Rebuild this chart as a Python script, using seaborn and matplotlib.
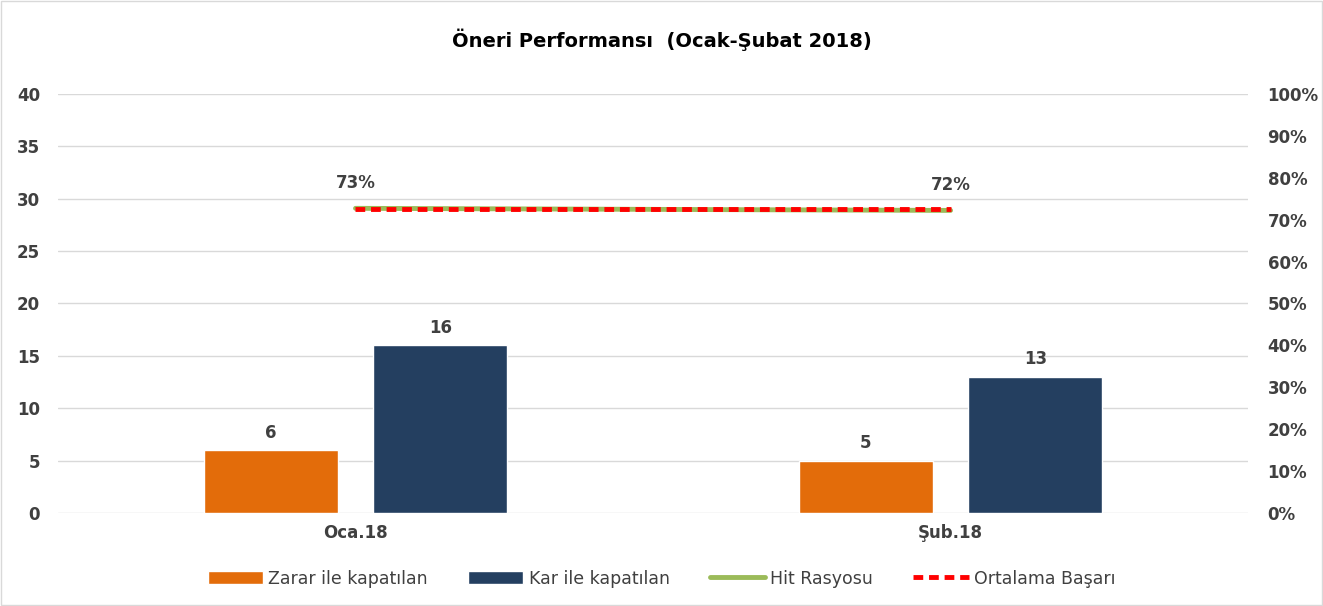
import matplotlib
matplotlib.use("Agg")
import matplotlib.pyplot as plt
from matplotlib.lines import Line2D
from matplotlib.patches import Patch
import seaborn as sns
import pandas as pd

# veriler
aylar = ["Oca.18", "Şub.18"]
zarar = [6, 5]
kar = [16, 13]
hit_rasyosu = [0.727, 0.722]
ortalama_basari = [0.7245, 0.7245]
hit_etiket = ["73%", "72%"]

seriler = ["Zarar ile kapatılan", "Kar ile kapatılan"]
renkler = ["#E36C0A", "#243F60"]

df = pd.DataFrame({
    "ay": aylar * 2,
    "seri": [seriler[0]] * 2 + [seriler[1]] * 2,
    "adet": zarar + kar,
})

sns.set_style("white")
plt.rcParams["font.family"] = ["DejaVu Sans"]
yazi_rengi = "#404040"

fig = plt.figure(figsize=(13.23, 6.06), dpi=100)
ax = fig.add_axes([0.0438, 0.1535, 0.8996, 0.6915])

sns.barplot(data=df, x="ay", y="adet", hue="seri", palette=renkler,
            width=0.57, gap=0.21, legend=False, ax=ax, saturation=1)

# bar etiketleri
for cont in ax.containers:
    ax.bar_label(cont, padding=6, fontsize=12, fontweight="bold", color=yazi_rengi)

ax.set_ylim(0, 40)
ax.set_yticks(range(0, 41, 5))
ax.set_xlim(-0.5, 1.5)
ax.set_xlabel("")
ax.set_ylabel("")
ax.grid(axis="y", color="#D9D9D9", linewidth=1)
ax.set_axisbelow(True)
for s in ax.spines.values():
    s.set_visible(False)
ax.tick_params(axis="y", length=0, pad=13, labelsize=12, labelcolor=yazi_rengi)
ax.tick_params(axis="x", length=0, pad=8, labelsize=12, labelcolor=yazi_rengi)
for lbl in ax.get_xticklabels() + ax.get_yticklabels():
    lbl.set_fontweight("bold")

# ikinci eksen: oranlar
ax2 = ax.twinx()
sns.lineplot(x=[0, 1], y=hit_rasyosu, color="#9BBB59", linewidth=3.5, ax=ax2)
sns.lineplot(x=[0, 1], y=ortalama_basari, color="#FF0000", linewidth=3.5,
             linestyle=(0, (2, 1.2)), ax=ax2)
ax2.set_ylim(0, 1)
ax2.set_yticks([i / 10 for i in range(11)])
ax2.set_yticklabels([f"{i * 10}%" for i in range(11)])
ax2.tick_params(axis="y", length=0, pad=14, labelsize=12, labelcolor=yazi_rengi)
for lbl in ax2.get_yticklabels():
    lbl.set_fontweight("bold")
for s in ax2.spines.values():
    s.set_visible(False)
for i, t in enumerate(hit_etiket):
    ax2.annotate(t, (i, hit_rasyosu[i]), xytext=(0, 12), textcoords="offset points",
                 ha="center", va="bottom", fontsize=12, fontweight="bold", color=yazi_rengi)

fig.text(0.5, 0.935, "Öneri Performansı  (Ocak-Şubat 2018)", ha="center", va="center",
         fontsize=14, fontweight="bold", color="black")

handles = [
    Patch(facecolor=renkler[0]),
    Patch(facecolor=renkler[1]),
    Line2D([], [], color="#9BBB59", linewidth=3.5),
    Line2D([], [], color="#FF0000", linewidth=3.5, linestyle=(0, (2, 1.2))),
]
etiketler = seriler + ["Hit Rasyosu", "Ortalama Başarı"]
leg = fig.legend(handles, etiketler, loc="center", bbox_to_anchor=(0.5, 0.045), ncol=4,
                 frameon=False, fontsize=12.5, handlelength=3.2, handleheight=0.8,
                 columnspacing=2.3, handletextpad=0.3)
for t in leg.get_texts():
    t.set_color(yazi_rengi)

fig.patches.append(plt.Rectangle((0.001, 0.001), 0.998, 0.998, transform=fig.transFigure,
                                 fill=False, edgecolor="#D9D9D9", linewidth=1))

fig.savefig("out.png", dpi=100)
